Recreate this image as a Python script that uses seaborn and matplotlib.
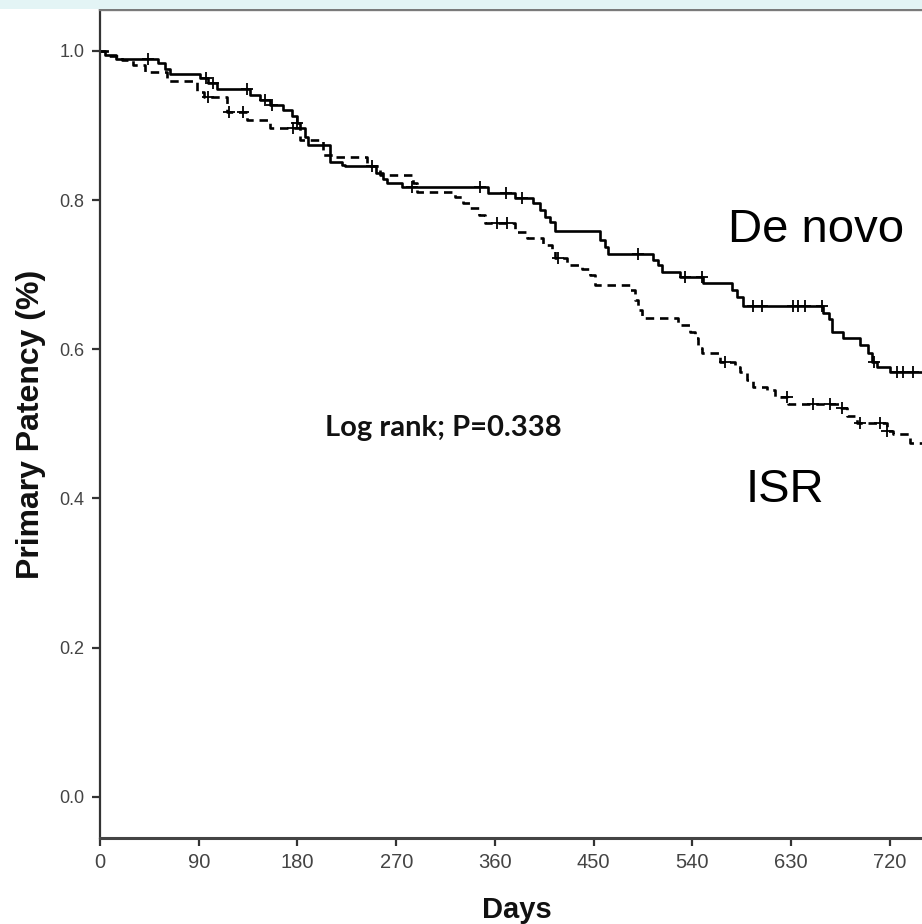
import numpy as np
import pandas as pd
import matplotlib
matplotlib.use("Agg")
import matplotlib.pyplot as plt
import seaborn as sns
from matplotlib.patches import Rectangle

# ---- data ----
denovo_days = [0, 5, 15, 53, 59, 64, 91, 98, 107, 137, 146, 155, 167, 175, 180, 182, 187, 190,
               210, 221, 223, 252, 258, 262, 275, 354, 378, 395, 401, 406, 410, 415, 456, 460,
               463, 504, 509, 512, 529, 550, 576, 581, 586, 659, 664, 667, 677, 693, 700, 704,
               708, 720, 752]
denovo_surv = [1.0, 0.994, 0.989, 0.984, 0.976, 0.969, 0.964, 0.957, 0.949, 0.941, 0.934, 0.928,
               0.921, 0.913, 0.903, 0.897, 0.885, 0.874, 0.851, 0.847, 0.845, 0.836, 0.828, 0.823,
               0.818, 0.810, 0.803, 0.796, 0.787, 0.777, 0.771, 0.759, 0.747, 0.737, 0.728, 0.720,
               0.713, 0.704, 0.697, 0.689, 0.680, 0.670, 0.658, 0.649, 0.640, 0.623, 0.615, 0.606,
               0.595, 0.583, 0.576, 0.570, 0.570]
denovo_censor = [44, 97, 103, 134, 150, 157, 180, 284, 346, 370, 385, 490, 533, 549, 595, 603,
                 632, 636, 643, 658, 705, 726, 732, 741]

isr_days = [0, 8, 20, 30, 41, 61, 88, 95, 116, 134, 155, 182, 203, 215, 243, 255, 285, 289, 324,
            331, 337, 345, 351, 378, 389, 404, 412, 415, 426, 439, 447, 451, 483, 488, 490, 494,
            527, 538, 542, 545, 549, 565, 579, 583, 590, 595, 608, 615, 627, 674, 681, 690, 717,
            723, 738, 752]
isr_surv = [1.0, 0.993, 0.987, 0.981, 0.971, 0.960, 0.945, 0.938, 0.918, 0.907, 0.897, 0.881,
            0.861, 0.857, 0.845, 0.834, 0.823, 0.811, 0.804, 0.796, 0.789, 0.780, 0.769, 0.757,
            0.749, 0.740, 0.733, 0.722, 0.713, 0.708, 0.700, 0.686, 0.680, 0.666, 0.653, 0.642,
            0.633, 0.623, 0.615, 0.602, 0.595, 0.583, 0.576, 0.570, 0.559, 0.550, 0.546, 0.536,
            0.526, 0.521, 0.511, 0.501, 0.490, 0.486, 0.475, 0.475]
isr_censor = [98, 118, 130, 176, 248, 362, 371, 417, 570, 626, 650, 665, 676, 693, 711, 717]

x_ticks = [0, 90, 180, 270, 360, 450, 540, 630, 720]
y_ticks = [0.0, 0.2, 0.4, 0.6, 0.8, 1.0]
group_names = ["De novo", "ISR"]
annotation = "Log rank; P=0.338"
x_label = "Days"
y_label = "Primary Patency (%)"

# ---- tables ----
curves = pd.concat([
    pd.DataFrame({"day": denovo_days, "surv": denovo_surv, "group": group_names[0]}),
    pd.DataFrame({"day": isr_days, "surv": isr_surv, "group": group_names[1]}),
], ignore_index=True)


def step_value(days, surv, t):
    idx = np.searchsorted(np.asarray(days), t, side="right") - 1
    return np.asarray(surv)[idx]


censors = pd.concat([
    pd.DataFrame({"day": denovo_censor,
                  "surv": step_value(denovo_days, denovo_surv, denovo_censor),
                  "group": group_names[0]}),
    pd.DataFrame({"day": isr_censor,
                  "surv": step_value(isr_days, isr_surv, isr_censor),
                  "group": group_names[1]}),
], ignore_index=True)

# ---- figure ----
sns.set_style("white")
plt.rcParams["font.family"] = ["Liberation Sans", "DejaVu Sans"]

W, H = 922, 924
fig = plt.figure(figsize=(W / 100, H / 100), dpi=100, facecolor="white")
fig.patches.append(Rectangle((0, (H - 9) / H), 1, 9 / H, transform=fig.transFigure,
                             facecolor="#e3f4f5", edgecolor="none", zorder=0))
ax = fig.add_axes([100 / W, (H - 838) / H, 822 / W, 829 / H])

sns.lineplot(data=curves, x="day", y="surv", style="group",
             dashes={group_names[0]: "", group_names[1]: (3.2, 2.2)},
             color="black", linewidth=1.9, drawstyle="steps-post",
             estimator=None, sort=False, legend=False, ax=ax)
sns.scatterplot(data=censors, x="day", y="surv", marker="+", s=70,
                color="black", linewidth=1.3, legend=False, ax=ax, zorder=3)

ax.set_xlim(0, 749.2)
ax.set_ylim(-0.055, 1.056)
ax.set_xticks(x_ticks)
ax.set_xticklabels([str(v) for v in x_ticks])
ax.set_yticks(y_ticks)
ax.set_yticklabels([f"{v:.1f}" for v in y_ticks])
ax.tick_params(axis="both", direction="out", length=6, width=1.6, color="#333333",
               labelcolor="#444444", pad=5, left=True, bottom=True)
ax.tick_params(axis="x", labelsize=14.5)
ax.tick_params(axis="y", labelsize=13)

ax.spines["right"].set_visible(False)
ax.spines["left"].set_color("#333333")
ax.spines["left"].set_linewidth(1.6)
ax.spines["bottom"].set_color("#444444")
ax.spines["bottom"].set_linewidth(2.2)
ax.spines["top"].set_color("#7a7a7a")
ax.spines["top"].set_linewidth(2.4)

ax.set_xlabel(x_label, fontsize=21, fontweight="bold", color="#111111")
ax.set_ylabel(y_label, fontsize=23, fontweight="bold", color="#111111")
ax.xaxis.set_label_coords((517 - 100) / 822, -(896 - 838) / 829)
ax.yaxis.set_label_coords((46 - 100) / 822, (838 - 424) / 829)

ax.text(572, 0.760, group_names[0], fontsize=34, ha="left", va="center", color="black")
ax.text(588, 0.411, group_names[1], fontsize=34, ha="left", va="center", color="black")
ax.text(421, 0.495, annotation, fontsize=21, fontweight="bold", ha="right", va="center",
        color="#111111", family=["Lato", "DejaVu Sans"])

fig.savefig("out.png", dpi=100, facecolor="white")
